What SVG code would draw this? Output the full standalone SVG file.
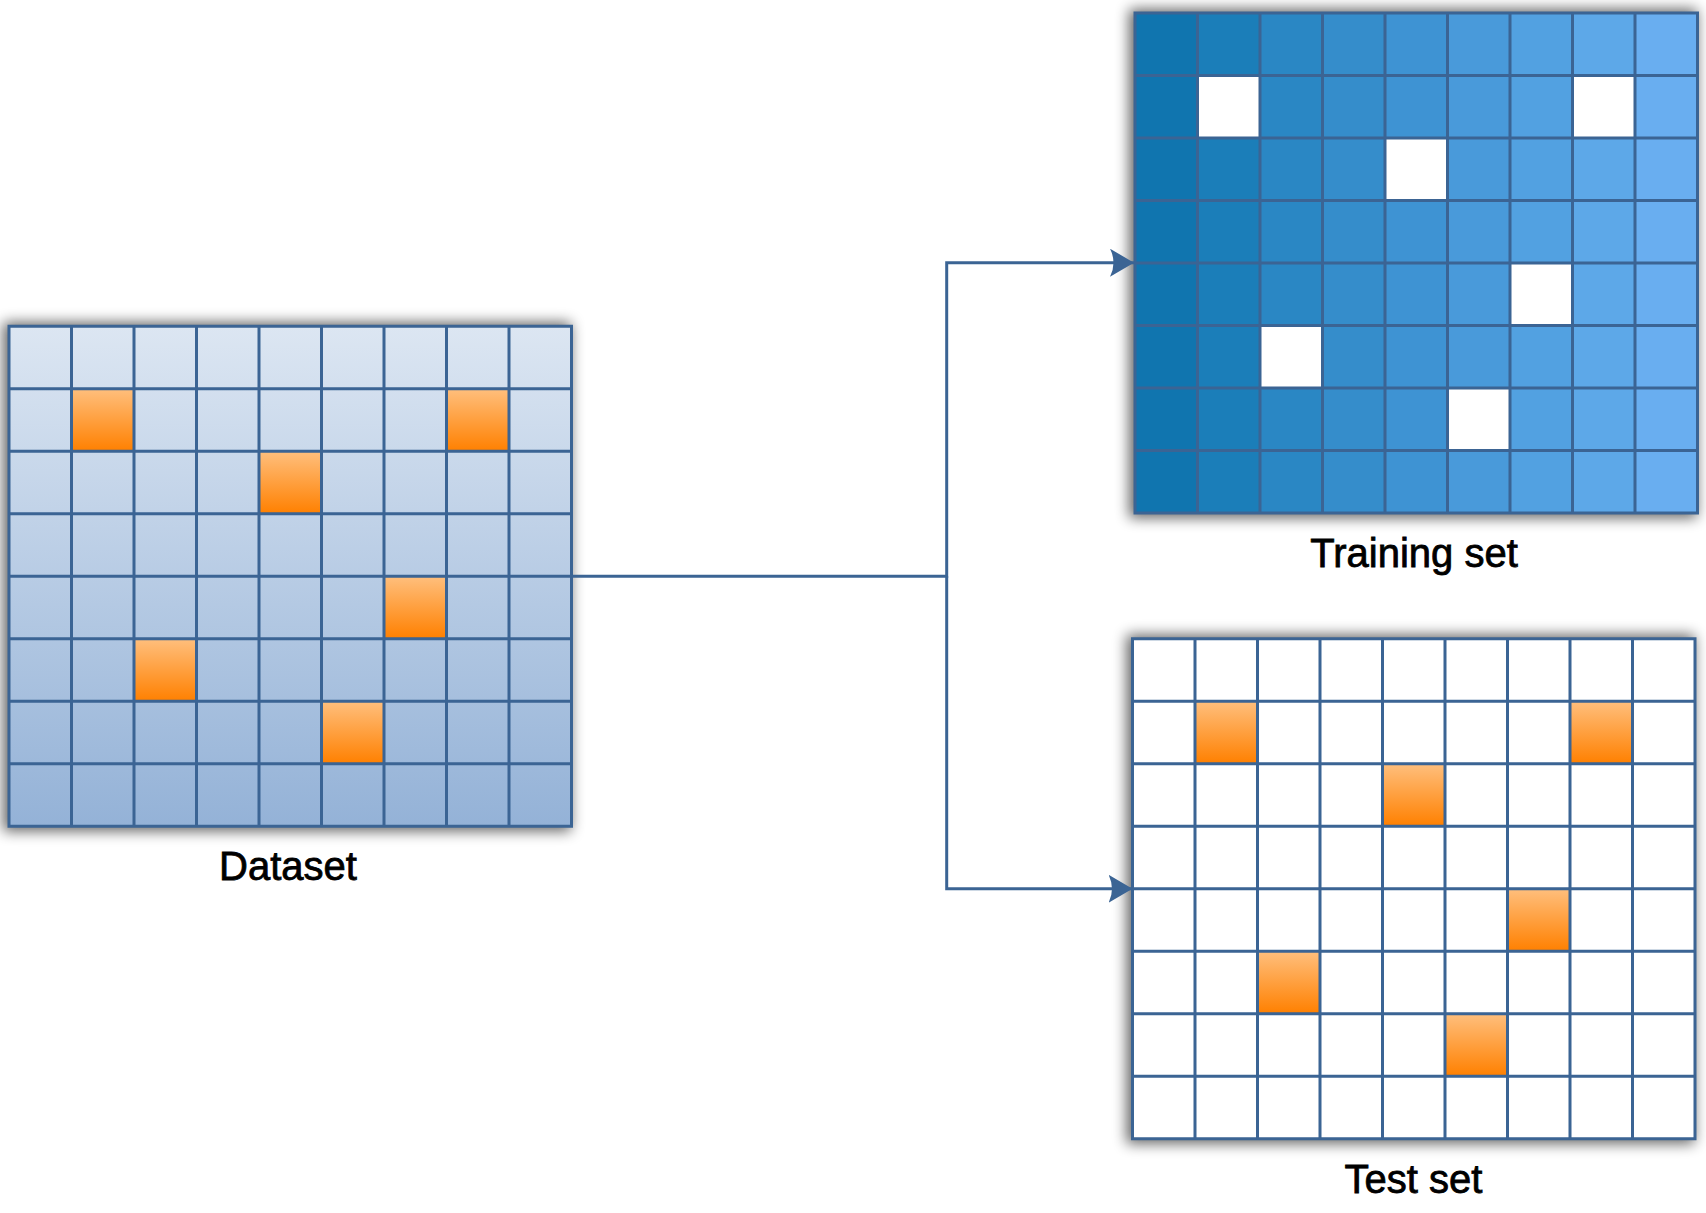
<svg xmlns="http://www.w3.org/2000/svg" xmlns:xlink="http://www.w3.org/1999/xlink" width="1706" height="1213" viewBox="0 0 1706 1213">
  <style>
    .grid { fill: none; stroke: #3B6494; stroke-width: 3; stroke-linecap: square; }
    .conn { fill: none; stroke: #3B6494; stroke-width: 3; }
    .label { font-family: "Liberation Sans", Arial, sans-serif; font-size: 40px; fill: #000; stroke: #000; stroke-width: 0.8; text-anchor: middle; }
    .orange { fill: url(#orangeGrad); }
    .hole { fill: #FFFFFF; }
    .shadow { fill: #000; opacity: 0.6; filter: url(#blur); }
  </style>
  <defs>
    <linearGradient id="orangeGrad" x1="0" y1="0" x2="0" y2="1">
      <stop offset="0" stop-color="#FFBF7D"/>
      <stop offset="1" stop-color="#FF8000"/>
    </linearGradient>
    <linearGradient id="dataGrad" x1="0" y1="0" x2="0" y2="1">
      <stop offset="0" stop-color="#DCE6F2"/>
      <stop offset="1" stop-color="#94B2D7"/>
    </linearGradient>
    <filter id="blur" x="-20%" y="-20%" width="140%" height="140%">
      <feGaussianBlur stdDeviation="7"/>
    </filter>
    <path id="gridLines" d="M0 0H562.5V500H0Z M62.5 0V500 M125 0V500 M187.5 0V500 M250 0V500 M312.5 0V500 M375 0V500 M437.5 0V500 M500 0V500 M0 62.5H562.5 M0 125H562.5 M0 187.5H562.5 M0 250H562.5 M0 312.5H562.5 M0 375H562.5 M0 437.5H562.5"/>
    <rect id="shadowRect" x="-6" y="-4" width="568" height="509"/>
    <marker id="arrow" markerUnits="userSpaceOnUse" viewBox="0 0 24 28" refX="24" refY="14" markerWidth="24" markerHeight="28" orient="auto">
      <path d="M0 0 L24 14 L0 28 Q7 14 0 0 Z" fill="#3B6494"/>
    </marker>
  </defs>

  <g id="dataset" transform="translate(9,326.3)">
    <use href="#shadowRect" class="shadow"/>
    <rect x="0" y="0" width="562.5" height="500" fill="url(#dataGrad)"/>
    <rect class="orange" x="62.5" y="62.5" width="62.5" height="62.5"/>
    <rect class="orange" x="437.5" y="62.5" width="62.5" height="62.5"/>
    <rect class="orange" x="250" y="125" width="62.5" height="62.5"/>
    <rect class="orange" x="375" y="250" width="62.5" height="62.5"/>
    <rect class="orange" x="125" y="312.5" width="62.5" height="62.5"/>
    <rect class="orange" x="312.5" y="375" width="62.5" height="62.5"/>
    <use href="#gridLines" class="grid"/>
    <text class="label" x="279" y="554.2">Dataset</text>
  </g>

  <g id="training-set" transform="translate(1135,13)">
    <use href="#shadowRect" class="shadow"/>
    <rect x="0" y="0" width="62.5" height="500" fill="#1075AF"/>
    <rect x="62.5" y="0" width="62.5" height="500" fill="#1B7EB9"/>
    <rect x="125" y="0" width="62.5" height="500" fill="#2A87C4"/>
    <rect x="187.5" y="0" width="62.5" height="500" fill="#358DCB"/>
    <rect x="250" y="0" width="62.5" height="500" fill="#3E93D3"/>
    <rect x="312.5" y="0" width="62.5" height="500" fill="#499ADA"/>
    <rect x="375" y="0" width="62.5" height="500" fill="#52A1E1"/>
    <rect x="437.5" y="0" width="62.5" height="500" fill="#5DA8E8"/>
    <rect x="500" y="0" width="62.5" height="500" fill="#69AEF0"/>
    <rect class="hole" x="62.5" y="62.5" width="62.5" height="62.5"/>
    <rect class="hole" x="437.5" y="62.5" width="62.5" height="62.5"/>
    <rect class="hole" x="250" y="125" width="62.5" height="62.5"/>
    <rect class="hole" x="375" y="250" width="62.5" height="62.5"/>
    <rect class="hole" x="125" y="312.5" width="62.5" height="62.5"/>
    <rect class="hole" x="312.5" y="375" width="62.5" height="62.5"/>
    <use href="#gridLines" class="grid"/>
    <text class="label" x="279" y="554">Training set</text>
  </g>

  <g id="test-set" transform="translate(1132.5,638.7)">
    <use href="#shadowRect" class="shadow"/>
    <rect x="0" y="0" width="562.5" height="500" fill="#FFFFFF"/>
    <rect class="orange" x="62.5" y="62.5" width="62.5" height="62.5"/>
    <rect class="orange" x="437.5" y="62.5" width="62.5" height="62.5"/>
    <rect class="orange" x="250" y="125" width="62.5" height="62.5"/>
    <rect class="orange" x="375" y="250" width="62.5" height="62.5"/>
    <rect class="orange" x="125" y="312.5" width="62.5" height="62.5"/>
    <rect class="orange" x="312.5" y="375" width="62.5" height="62.5"/>
    <use href="#gridLines" class="grid"/>
    <text class="label" x="281" y="554">Test set</text>
  </g>

  <g id="connectors">
    <path class="conn" d="M571.5 576.3 H946.7 V262.7 H1134" marker-end="url(#arrow)"/>
    <path class="conn" d="M946.7 576.3 V888.7 H1132.5" marker-end="url(#arrow)"/>
  </g>
</svg>
